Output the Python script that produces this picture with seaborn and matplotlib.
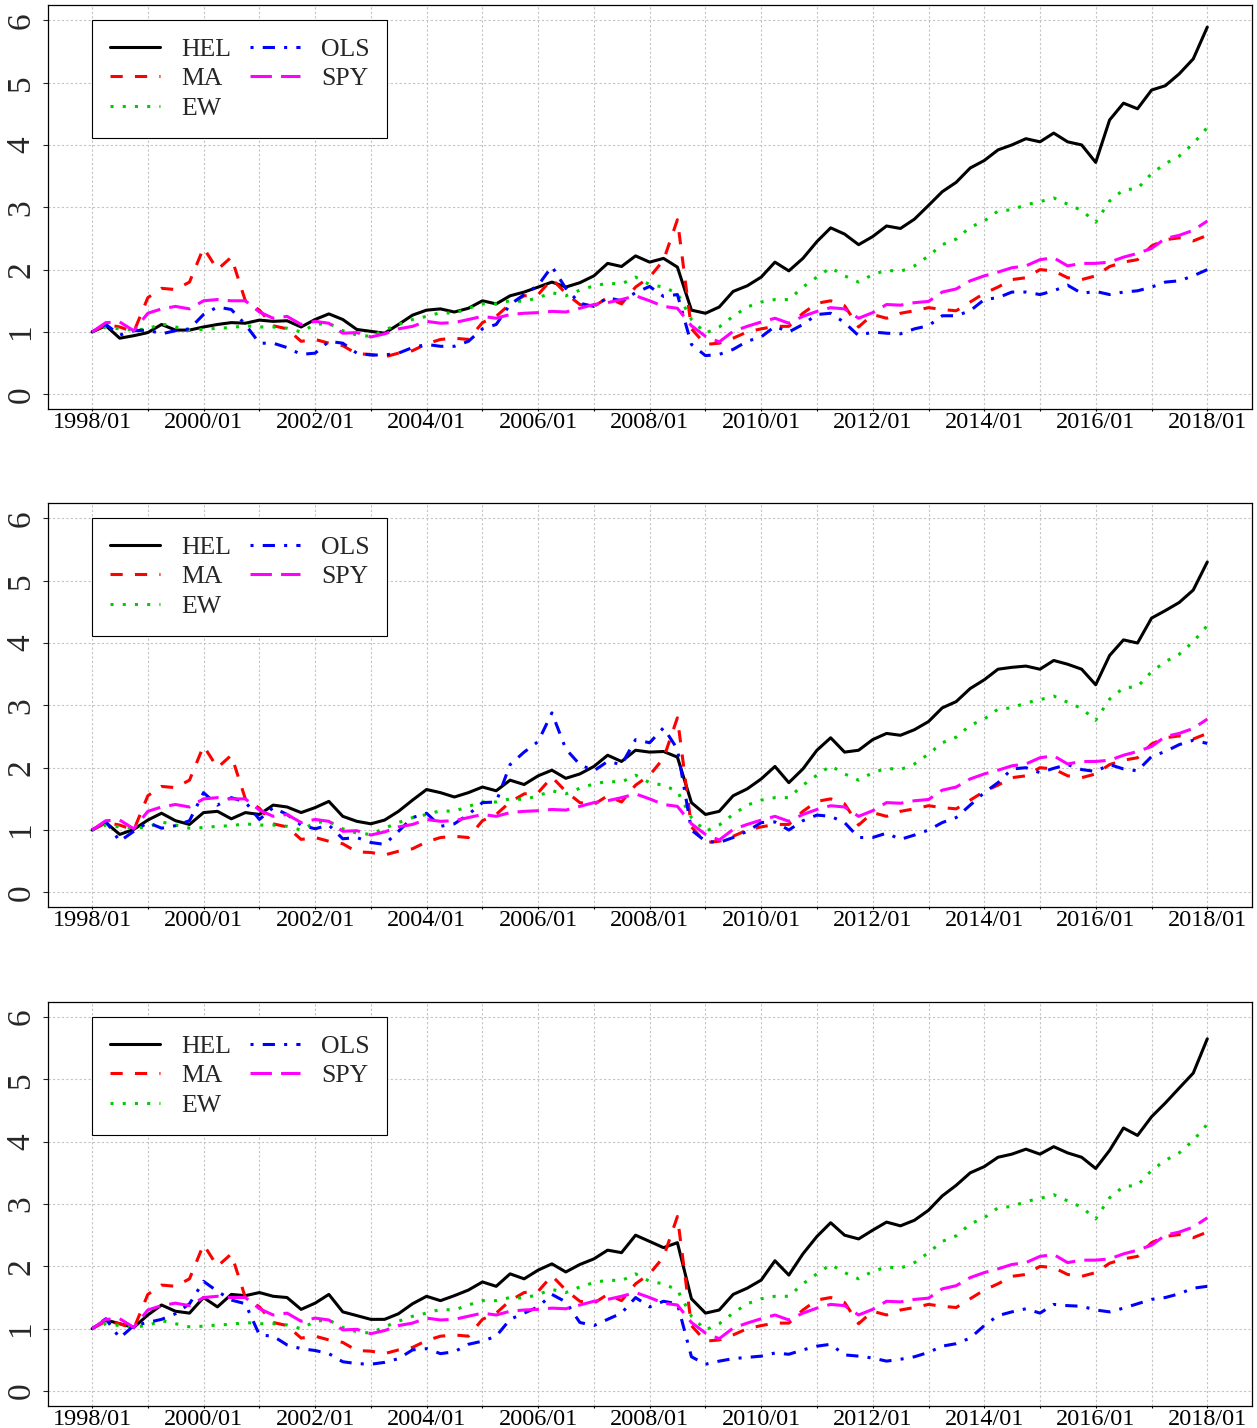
import matplotlib

matplotlib.use("Agg")

import matplotlib.dates as mdates
import matplotlib.pyplot as plt
import matplotlib.ticker as ticker
import pandas as pd
import seaborn as sns

# quarterly observation dates, 1998/01 .. 2018/01
DATES = pd.date_range("1998-01-01", "2018-01-01", freq="QS")

METHODS = ["HEL", "MA", "EW", "OLS", "SPY"]

# benchmark wealth paths (same in every panel)
MA = [1.00, 1.12, 1.08, 1.00, 1.55, 1.70, 1.68, 1.80, 2.35, 2.00, 2.20, 1.50,
      1.35, 1.10, 1.05, 0.85, 0.88, 0.82, 0.78, 0.65, 0.64, 0.60, 0.66, 0.70,
      0.81, 0.88, 0.90, 0.88, 1.15, 1.25, 1.45, 1.58, 1.60, 1.85, 1.62, 1.44,
      1.41, 1.55, 1.45, 1.72, 1.88, 2.15, 2.80, 1.05, 0.80, 0.82, 0.90, 1.00,
      1.05, 1.09, 1.09, 1.30, 1.46, 1.50, 1.42, 1.08, 1.28, 1.22, 1.30, 1.34,
      1.39, 1.36, 1.34, 1.48, 1.62, 1.72, 1.84, 1.87, 2.00, 1.98, 1.87, 1.84,
      1.90, 2.05, 2.12, 2.16, 2.38, 2.48, 2.51, 2.46, 2.55]
EW = [1.00, 1.08, 1.05, 1.03, 1.05, 1.13, 1.08, 1.03, 1.04, 1.06, 1.07, 1.10,
      1.08, 1.08, 1.06, 1.00, 1.12, 1.14, 1.02, 0.95, 0.93, 1.03, 1.12, 1.20,
      1.25, 1.31, 1.30, 1.38, 1.45, 1.45, 1.50, 1.49, 1.55, 1.63, 1.58, 1.67,
      1.74, 1.78, 1.77, 1.88, 1.76, 1.72, 1.62, 1.20, 0.98, 1.08, 1.25, 1.40,
      1.48, 1.52, 1.52, 1.72, 1.88, 2.03, 1.90, 1.80, 1.92, 1.99, 1.97, 2.06,
      2.22, 2.40, 2.49, 2.68, 2.78, 2.94, 2.96, 3.04, 3.09, 3.15, 3.05, 2.95,
      2.76, 3.10, 3.28, 3.30, 3.54, 3.70, 3.82, 4.02, 4.28]
SPY = [1.00, 1.15, 1.16, 1.02, 1.30, 1.37, 1.41, 1.37, 1.50, 1.52, 1.50, 1.50,
       1.32, 1.22, 1.25, 1.12, 1.17, 1.14, 0.98, 0.99, 0.92, 0.97, 1.05, 1.09,
       1.17, 1.14, 1.15, 1.20, 1.25, 1.22, 1.28, 1.30, 1.31, 1.33, 1.32, 1.38,
       1.44, 1.47, 1.52, 1.58, 1.50, 1.41, 1.38, 1.10, 0.93, 0.84, 1.01, 1.09,
       1.16, 1.22, 1.14, 1.25, 1.33, 1.39, 1.37, 1.22, 1.31, 1.44, 1.43, 1.47,
       1.49, 1.64, 1.69, 1.82, 1.90, 1.96, 2.03, 2.06, 2.16, 2.19, 2.06, 2.10,
       2.10, 2.12, 2.20, 2.26, 2.34, 2.50, 2.55, 2.63, 2.78]

# panel specific paths
HEL_1 = [1.00, 1.10, 0.90, 0.94, 0.99, 1.12, 1.03, 1.03, 1.08, 1.12, 1.15, 1.14,
         1.19, 1.17, 1.18, 1.08, 1.20, 1.29, 1.20, 1.04, 1.01, 0.98, 1.12, 1.27,
         1.35, 1.37, 1.32, 1.38, 1.50, 1.45, 1.58, 1.64, 1.72, 1.80, 1.72, 1.79,
         1.90, 2.10, 2.05, 2.22, 2.12, 2.18, 2.04, 1.35, 1.30, 1.40, 1.65, 1.74,
         1.88, 2.12, 1.98, 2.18, 2.45, 2.67, 2.57, 2.40, 2.53, 2.70, 2.66, 2.81,
         3.03, 3.25, 3.40, 3.63, 3.75, 3.92, 4.00, 4.10, 4.05, 4.19, 4.05, 4.00,
         3.72, 4.40, 4.67, 4.58, 4.88, 4.95, 5.14, 5.38, 5.89]
OLS_1 = [1.00, 1.12, 0.95, 1.02, 1.03, 0.97, 1.02, 1.05, 1.28, 1.40, 1.36, 1.12,
         0.82, 0.82, 0.75, 0.64, 0.66, 0.85, 0.82, 0.66, 0.63, 0.63, 0.66, 0.75,
         0.80, 0.77, 0.77, 0.85, 1.05, 1.12, 1.44, 1.60, 1.75, 2.05, 1.70, 1.46,
         1.41, 1.55, 1.50, 1.63, 1.73, 1.57, 1.60, 0.80, 0.62, 0.64, 0.72, 0.85,
         0.92, 1.09, 1.00, 1.12, 1.28, 1.30, 1.15, 0.94, 1.00, 0.98, 0.97, 1.05,
         1.10, 1.26, 1.26, 1.34, 1.52, 1.55, 1.64, 1.64, 1.60, 1.66, 1.75, 1.62,
         1.65, 1.60, 1.64, 1.66, 1.72, 1.80, 1.82, 1.90, 2.00]
HEL_2 = [1.00, 1.12, 0.93, 1.01, 1.16, 1.27, 1.15, 1.09, 1.28, 1.30, 1.18, 1.28,
         1.25, 1.40, 1.37, 1.28, 1.36, 1.46, 1.22, 1.14, 1.10, 1.16, 1.30, 1.48,
         1.65, 1.60, 1.53, 1.60, 1.69, 1.63, 1.80, 1.73, 1.87, 1.96, 1.83, 1.90,
         2.02, 2.20, 2.10, 2.28, 2.25, 2.26, 2.17, 1.44, 1.25, 1.30, 1.55, 1.66,
         1.82, 2.02, 1.76, 1.98, 2.28, 2.48, 2.25, 2.28, 2.45, 2.55, 2.52, 2.61,
         2.74, 2.96, 3.06, 3.27, 3.41, 3.58, 3.61, 3.63, 3.58, 3.72, 3.66, 3.58,
         3.33, 3.80, 4.05, 4.00, 4.40, 4.52, 4.65, 4.85, 5.30]
OLS_2 = [1.00, 1.14, 0.82, 0.98, 1.12, 1.03, 1.07, 1.15, 1.60, 1.40, 1.52, 1.45,
         1.17, 1.36, 1.25, 1.08, 1.02, 1.08, 0.86, 0.88, 0.80, 0.77, 0.98, 1.20,
         1.27, 1.06, 1.10, 1.25, 1.44, 1.45, 2.05, 2.25, 2.42, 2.88, 2.30, 2.05,
         1.95, 2.10, 2.05, 2.45, 2.40, 2.64, 2.30, 1.00, 0.82, 0.80, 0.88, 0.98,
         1.12, 1.13, 1.00, 1.15, 1.24, 1.22, 1.12, 0.88, 0.88, 0.95, 0.85, 0.92,
         1.00, 1.12, 1.20, 1.40, 1.60, 1.76, 1.98, 2.00, 1.92, 1.99, 2.05, 1.97,
         1.94, 2.05, 1.98, 1.95, 2.18, 2.26, 2.37, 2.44, 2.39]
HEL_3 = [1.00, 1.14, 1.08, 1.02, 1.22, 1.38, 1.28, 1.25, 1.50, 1.35, 1.55, 1.53,
         1.58, 1.52, 1.50, 1.31, 1.41, 1.55, 1.27, 1.21, 1.15, 1.15, 1.24, 1.40,
         1.52, 1.45, 1.53, 1.62, 1.75, 1.68, 1.88, 1.80, 1.94, 2.04, 1.91, 2.03,
         2.12, 2.26, 2.22, 2.50, 2.40, 2.30, 2.38, 1.48, 1.25, 1.30, 1.55, 1.65,
         1.78, 2.09, 1.86, 2.20, 2.48, 2.70, 2.50, 2.44, 2.58, 2.71, 2.65, 2.74,
         2.90, 3.13, 3.30, 3.50, 3.60, 3.75, 3.80, 3.88, 3.80, 3.92, 3.82, 3.75,
         3.57, 3.86, 4.22, 4.10, 4.40, 4.62, 4.86, 5.10, 5.65]
OLS_3 = [1.00, 1.16, 0.85, 1.05, 1.10, 1.15, 1.24, 1.40, 1.76, 1.60, 1.46, 1.40,
         0.90, 0.88, 0.74, 0.68, 0.65, 0.60, 0.47, 0.44, 0.43, 0.46, 0.52, 0.66,
         0.68, 0.60, 0.63, 0.75, 0.80, 0.88, 1.15, 1.25, 1.35, 1.55, 1.43, 1.10,
         1.05, 1.15, 1.25, 1.50, 1.35, 1.44, 1.40, 0.55, 0.43, 0.48, 0.52, 0.54,
         0.56, 0.61, 0.59, 0.66, 0.72, 0.75, 0.58, 0.56, 0.53, 0.48, 0.51, 0.55,
         0.62, 0.72, 0.76, 0.85, 1.05, 1.21, 1.27, 1.32, 1.25, 1.39, 1.37, 1.36,
         1.30, 1.27, 1.33, 1.40, 1.47, 1.50, 1.56, 1.65, 1.68]

PANELS = [(HEL_1, OLS_1), (HEL_2, OLS_2), (HEL_3, OLS_3)]

COLOURS = {"HEL": "black", "MA": "red", "EW": "#00CD00",
           "OLS": "blue", "SPY": "magenta"}
DASHES = {"HEL": "", "MA": (4, 4), "EW": (1, 3),
          "OLS": (1, 3, 4, 3), "SPY": (7, 3)}

sns.set_theme(style="white")
plt.rcParams["font.family"] = ["Liberation Serif", "DejaVu Serif"]
plt.rcParams["axes.edgecolor"] = "black"
plt.rcParams["axes.linewidth"] = 0.9


def year_label(value, pos):
    d = mdates.num2date(value)
    return f"{d.year}/01" if d.year % 2 == 0 else ""


def panel_frame(hel, ols) -> pd.DataFrame:
    series = {"HEL": hel, "MA": MA, "EW": EW, "OLS": ols, "SPY": SPY}
    parts = [
        pd.DataFrame({"date": DATES, "wealth": series[m], "method": m})
        for m in METHODS
    ]
    return pd.concat(parts, ignore_index=True)


def style_axes(ax) -> None:
    ax.set_xlim(pd.Timestamp("1997-03-15"), pd.Timestamp("2018-10-19"))
    ax.set_ylim(-0.24, 6.24)
    ax.xaxis.set_major_locator(mdates.YearLocator(1))
    ax.xaxis.set_major_formatter(ticker.FuncFormatter(year_label))
    ax.yaxis.set_major_locator(ticker.FixedLocator(range(7)))
    ax.grid(True, color="#C4C4C4", linestyle=(0, (2, 2)), linewidth=0.8)
    ax.tick_params(axis="x", direction="out", length=1.5, width=0.8,
                   pad=0.6, labelsize=17.5, bottom=True, colors="black")
    ax.tick_params(axis="y", direction="out", length=3.3, width=0.8,
                   pad=4.8, labelsize=24, left=True, labelrotation=90)
    for lab in ax.get_yticklabels():
        lab.set_va("center")
    for side in ["left", "right", "top", "bottom"]:
        ax.spines[side].set_visible(True)
        ax.spines[side].set_color("black")
    ax.set_xlabel("")
    ax.set_ylabel("")


fig = plt.figure(figsize=(12.57, 14.28), dpi=100)
bottoms = [0.7134, 0.3646, 0.0154]

for (hel, ols), bottom in zip(PANELS, bottoms):
    ax = fig.add_axes([0.0378, bottom, 0.958, 0.2829])
    sns.lineplot(
        ax=ax,
        data=panel_frame(hel, ols),
        x="date",
        y="wealth",
        hue="method",
        hue_order=METHODS,
        style="method",
        style_order=METHODS,
        palette=COLOURS,
        dashes=DASHES,
        linewidth=2.2,
        estimator=None,
        errorbar=None,
        legend=False,
    )
    style_axes(ax)
    leg = ax.legend(
        ax.get_lines()[:5],
        METHODS,
        ncol=2,
        loc="upper left",
        bbox_to_anchor=(0.0372, 0.9636),
        borderaxespad=0,
        frameon=True,
        fancybox=False,
        edgecolor="black",
        fontsize=18.5,
        handlelength=1.95,
        handletextpad=0.8,
        columnspacing=0.75,
        labelspacing=0.25,
        borderpad=0.7,
    )
    leg.get_frame().set_linewidth(0.8)
    leg.get_frame().set_alpha(1)

fig.savefig("out.png", dpi=100)
